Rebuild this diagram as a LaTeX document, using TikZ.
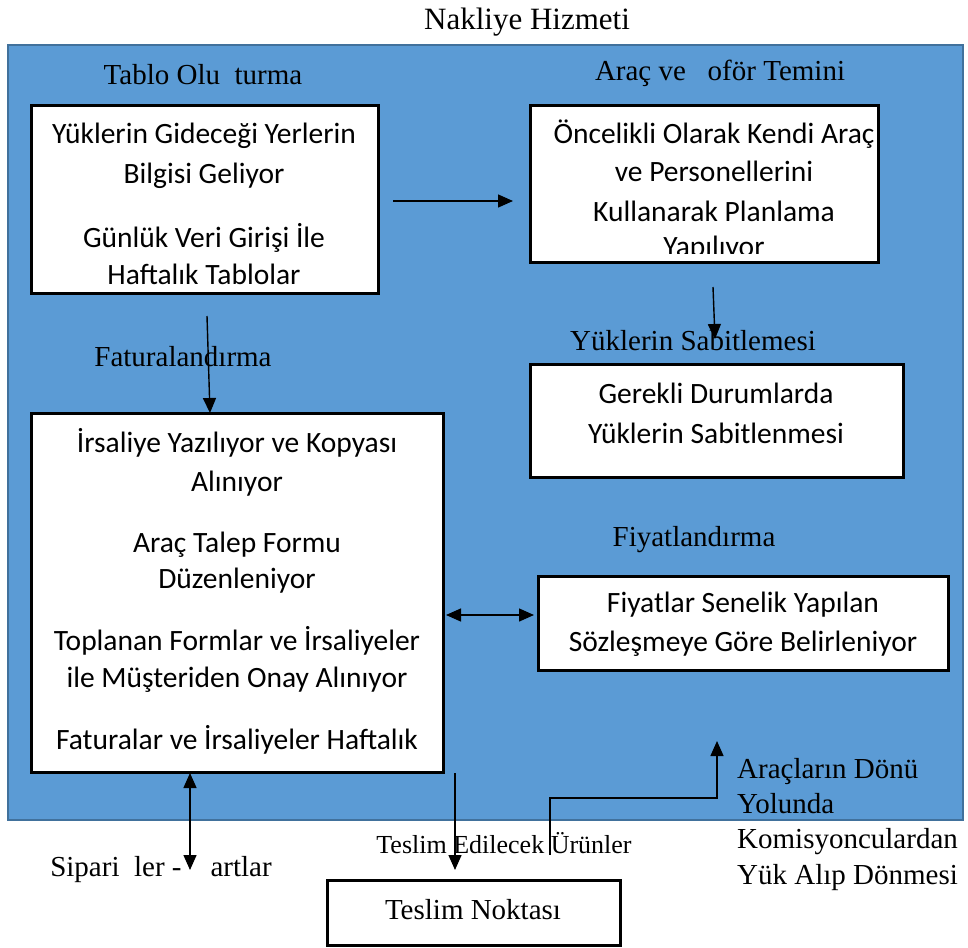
\documentclass[tikz,border=0pt]{standalone}
\usepackage{fontspec}
\setmainfont{Liberation Serif}
\newfontfamily\boxfont{Carlito}
\usetikzlibrary{arrows.meta}
\definecolor{panelblue}{HTML}{5B9BD5}
\definecolor{paneledge}{HTML}{41719C}
\tikzset{
  stagebox/.style={draw=black, line width=3pt, fill=white},
  label/.style={inner sep=0pt, font=\fontsize{29}{34}\selectfont},
  boxline/.style={inner sep=0pt, font=\boxfont\fontsize{29.5}{34}\selectfont},
  flow/.style={line width=1.4pt, -{Triangle[length=15pt,width=13pt]}},
  flow2/.style={line width=1.4pt, {Triangle[length=15pt,width=13pt]}-{Triangle[length=15pt,width=13pt]}},
}
\begin{document}
\begin{tikzpicture}[x=1pt, y=-1pt]
\useasboundingbox (0,0) rectangle (968,947);
\fill[white] (0,0) rectangle (968,947);

% title and the blue service panel
\node[label, font=\fontsize{31}{36}\selectfont] (title) at (527,22) {Nakliye Hizmeti};
\draw[fill=panelblue, draw=paneledge, line width=2pt] (8,45) rectangle (963,820);

% section headings
\node[label] (hTablo) at (203,75) {Tablo Olu\ \ turma};
\node[label] (hArac) at (720,73) {Araç ve\ \ \ oför Temini};
\node[label] (hFatura) at (183,357) {Faturalandırma};
\node[label] (hSabit) at (693,341) {Yüklerin Sabitlemesi};
\node[label] (hFiyat) at (694,540) {Fiyatlandırma};

% boxes
\draw[stagebox] (31,106) rectangle (378,293);
\draw[stagebox] (530,106) rectangle (878,262);
\draw[stagebox] (530,364) rectangle (903,477);
\draw[stagebox] (31,413) rectangle (443,772);
\draw[stagebox] (538,576) rectangle (948,670);
\draw[stagebox] (327,880) rectangle (620,945);

% box texts
\node[boxline] (t1a) at (204,136) {Yüklerin Gideceği Yerlerin};
\node[boxline] (t1b) at (204,176) {Bilgisi Geliyor};
\node[boxline] (t1c) at (204,238) {Günlük Veri Girişi İle};
\node[boxline] (t1d) at (204,274) {Haftalık Tablolar};

\begin{scope}
  \clip (532,108) rectangle (876,253);
  \node[boxline] (t2a) at (714,134) {Öncelikli Olarak Kendi Araç};
  \node[boxline] (t2b) at (714,171) {ve Personellerini};
  \node[boxline] (t2c) at (714,211) {Kullanarak Planlama};
  \node[boxline] (t2d) at (714,249) {Yapılıyor};
\end{scope}

\node[boxline] (t3a) at (716,393) {Gerekli Durumlarda};
\node[boxline] (t3b) at (716,433) {Yüklerin Sabitlenmesi};

\node[boxline] (t4a) at (237,443) {İrsaliye Yazılıyor ve Kopyası};
\node[boxline] (t4b) at (237,484) {Alınıyor};
\node[boxline] (t4c) at (237,545) {Araç Talep Formu};
\node[boxline] (t4d) at (237,581) {Düzenleniyor};
\node[boxline] (t4e) at (237,641) {Toplanan Formlar ve İrsaliyeler};
\node[boxline] (t4f) at (237,680) {ile Müşteriden Onay Alınıyor};
\node[boxline] (t4g) at (237,740) {Faturalar ve İrsaliyeler Haftalık};

\node[boxline] (t5a) at (743,605) {Fiyatlar Senelik Yapılan};
\node[boxline] (t5b) at (743,644) {Sözleşmeye Göre Belirleniyor};

\node[label] (teslim) at (473,910) {Teslim Noktası};

% labels outside the boxes
\node[label] (siparis) at (161,870) {Sipari\ \ ler -\ \ \ \ artlar};
\node[label, font=\fontsize{26}{30}\selectfont] (urunler) at (504,843) {Teslim Edilecek Ürünler};
\node[label, anchor=west] (d1) at (737,772) {Araçların Dönü};
\node[label, anchor=west] (d2) at (737,804) {Yolunda};
\node[label, anchor=west] (d3) at (737,842) {Komisyonculardan};
\node[label, anchor=west] (d4) at (737,878) {Yük Alıp Dönmesi};

% connector end points
\coordinate (aS) at (393,201);   \coordinate (aE) at (513,201);
\coordinate (bS) at (713,287);   \coordinate (bE) at (715,339);
\coordinate (cS) at (207,316);   \coordinate (cE) at (210,413);
\coordinate (dS) at (446,615);   \coordinate (dE) at (534,615);
\coordinate (eS) at (190,773);   \coordinate (eE) at (190,870);
\coordinate (fS) at (455,773);   \coordinate (fE) at (455,870);
\coordinate (gS) at (550,855);   \coordinate (gK) at (550,798);
\coordinate (gE) at (717,741);

% connectors
\draw[flow] (aS) -- (aE);
\draw[flow] (bS) -- (bE);
\draw[flow] (cS) -- (cE);
\draw[flow2] (dS) -- (dE);
\draw[flow2] (eS) -- (eE);
\draw[flow] (fS) -- (fE);
\draw[flow] (gS) -- (gK) -| (gE);
\end{tikzpicture}
\end{document}
